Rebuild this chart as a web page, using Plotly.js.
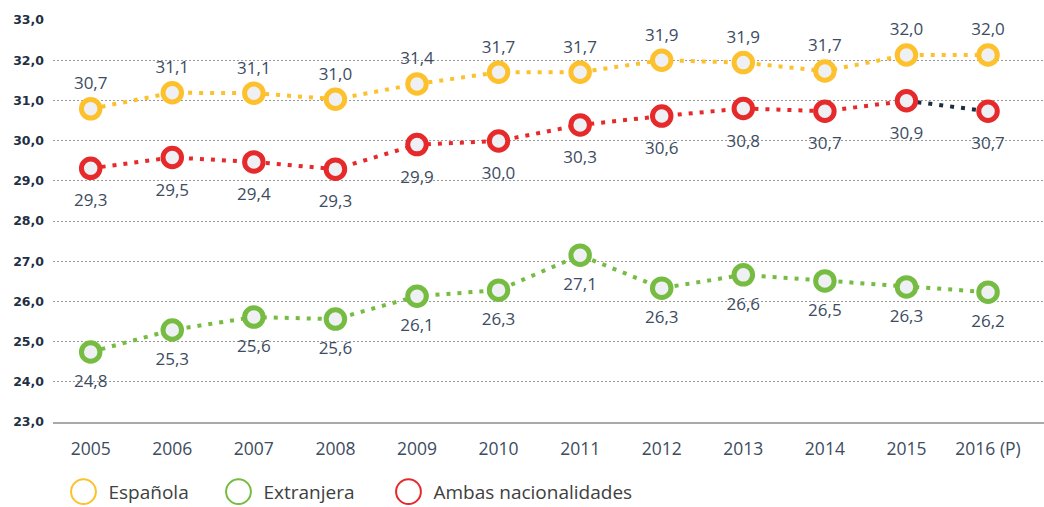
<!DOCTYPE html>
<html>
<head>
<meta charset="utf-8">
<script src="https://cdn.plot.ly/plotly-3.0.1.min.js"></script>
<style>
html,body{margin:0;padding:0;background:#fff;}
#chart{width:1044px;height:507px;}
</style>
</head>
<body>
<div id="chart"></div>
<script>
// ---- data ----
const years = ['2005','2006','2007','2008','2009','2010','2011','2012','2013','2014','2015','2016 (P)'];

const espanolaValues = [30.79, 31.19, 31.18, 31.03, 31.41, 31.70, 31.70, 32.00, 31.94, 31.73, 32.13, 32.13];
const espanolaLabels = ['30,7','31,1','31,1','31,0','31,4','31,7','31,7','31,9','31,9','31,7','32,0','32,0'];

const ambasValues = [29.31, 29.58, 29.47, 29.29, 29.90, 29.99, 30.39, 30.61, 30.80, 30.73, 30.99, 30.73];
const ambasLabels = ['29,3','29,5','29,4','29,3','29,9','30,0','30,3','30,6','30,8','30,7','30,9','30,7'];

const extranjeraValues = [24.74, 25.29, 25.61, 25.56, 26.13, 26.28, 27.15, 26.33, 26.66, 26.51, 26.36, 26.23];
const extranjeraLabels = ['24,8','25,3','25,6','25,6','26,1','26,3','27,1','26,3','26,6','26,5','26,3','26,2'];

const seriesNames = ['Española', 'Extranjera', 'Ambas nacionalidades'];

// ---- styles ----
const YELLOW = '#fdc12e', GREEN = '#76bc43', RED = '#e62a2b', NAVY = '#1c2e44';
const FILL = '#eef0f3', LABEL = '#3d4c5f';
const DOT = '4px,7px';

function lineTrace(x, y, color) {
  return {x: x, y: y, type: 'scatter', mode: 'lines',
    line: {color: color, width: 4, dash: DOT},
    showlegend: false, hoverinfo: 'skip'};
}
function markerTrace(y, color) {
  return {x: years, y: y, type: 'scatter', mode: 'markers',
    marker: {size: 18.5, color: FILL, line: {color: color, width: 5}},
    showlegend: false, hoverinfo: 'skip', cliponaxis: false};
}
function labelTrace(y, labels, pos, size) {
  return {x: years, y: y, type: 'scatter', mode: 'markers+text',
    text: labels, textposition: pos,
    textfont: {family: 'Open Sans', size: 17, color: LABEL},
    marker: {size: size, color: 'rgba(0,0,0,0)'},
    showlegend: false, hoverinfo: 'skip', cliponaxis: false};
}
function legendTrace(name, color, w) {
  return {x: [null], y: [null], type: 'scatter', mode: 'markers', name: name,
    marker: {symbol: 'circle-open', size: 16, color: color, line: {color: color, width: 1.3}},
    showlegend: true, legendwidth: w, hoverinfo: 'skip'};
}

const n = years.length;
const traces = [
  lineTrace(years, espanolaValues, YELLOW),
  lineTrace(years, extranjeraValues, GREEN),
  lineTrace(years.slice(0, n - 1), ambasValues.slice(0, n - 1), RED),
  lineTrace(years.slice(n - 2), ambasValues.slice(n - 2), NAVY),
  markerTrace(espanolaValues, YELLOW),
  markerTrace(extranjeraValues, GREEN),
  markerTrace(ambasValues, RED),
  labelTrace(espanolaValues, espanolaLabels, 'top center', 23),
  labelTrace(extranjeraValues, extranjeraLabels, 'bottom center', 34),
  labelTrace(ambasValues, ambasLabels, 'bottom center', 39),
  legendTrace(seriesNames[0], YELLOW, 110),
  legendTrace(seriesNames[1], GREEN, 125),
  legendTrace(seriesNames[2], RED, 200)
];

const layout = {
  width: 1044, height: 507,
  margin: {l: 53, r: 0, t: 20, b: 85, pad: 0},
  paper_bgcolor: '#ffffff', plot_bgcolor: '#ffffff',
  separators: ',.',
  hovermode: false,
  showlegend: true,
  legend: {
    orientation: 'h', xref: 'container', yref: 'container',
    x: 0.0656, xanchor: 'left', y: 0.03, yanchor: 'middle',
    font: {family: 'Open Sans', size: 19, color: '#404040'},
    bgcolor: 'rgba(0,0,0,0)', borderwidth: 0, traceorder: 'normal'
  },
  xaxis: {
    type: 'category', range: [-0.462, 11.686],
    showgrid: false, zeroline: false,
    showline: true, linecolor: '#a9a9a9', linewidth: 1.5,
    ticks: '', ticklabelstandoff: 10,
    tickfont: {family: 'Open Sans', size: 17.5, color: LABEL},
    fixedrange: true
  },
  yaxis: {
    range: [23, 33], tick0: 23, dtick: 1, tickformat: '.1f',
    showgrid: true, gridcolor: '#9a9a9a', gridwidth: 1, griddash: '2px,2px',
    zeroline: false, showline: false, ticks: '', ticklabelstandoff: 8,
    tickfont: {family: 'DejaVu Sans', size: 12.5, color: '#1f3044', weight: 700},
    fixedrange: true
  }
};

Plotly.newPlot('chart', traces, layout, {displayModeBar: false, staticPlot: true}).then(function(gd) {
  gd.querySelectorAll('.legend .legendpoints path.scatterpts').forEach(function(p) {
    var t = p.getAttribute('transform') || '';
    var m = /translate\(\s*([-\d.]+)[ ,]+([-\d.]+)\s*\)/.exec(t);
    var tx = m ? parseFloat(m[1]) : 20, ty = m ? parseFloat(m[2]) : 0;
    p.setAttribute('transform', 'translate(' + (tx - 5) + ',' + ty + ') scale(1.55)');
  });
});
</script>
</body>
</html>
